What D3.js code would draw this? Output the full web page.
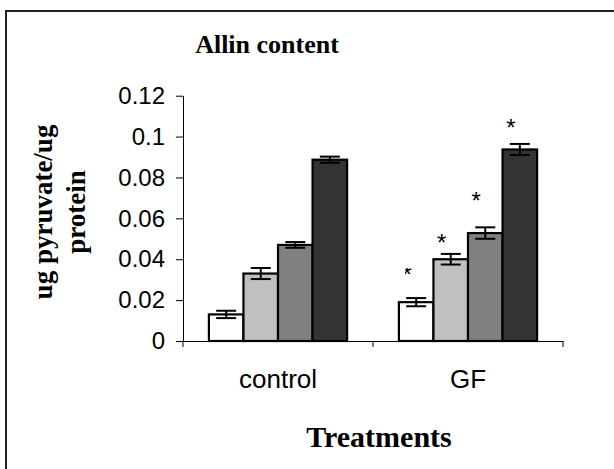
<!DOCTYPE html>
<html>
<head>
<meta charset="utf-8">
<script src="https://cdn.jsdelivr.net/npm/d3@7"></script>
<style>
  body { margin: 0; background: #fff; }
  svg { display: block; }
</style>
</head>
<body>
<script>
// values
const categories = ['control', 'GF'];
const levels = [0, 1, 2, 3];
const controlMeans = [0.013, 0.033, 0.047, 0.0887];
const controlErr = [0.0018, 0.0027, 0.0014, 0.0015];
const gfMeans = [0.019, 0.040, 0.0528, 0.0937];
const gfErr = [0.002, 0.0026, 0.0028, 0.0027];
const gfStarY = [0.0347, 0.0504, 0.0709, 0.1066];
const yTicks = [0, 0.02, 0.04, 0.06, 0.08, 0.1, 0.12];
const fills = ['#ffffff', '#c0c0c0', '#808080', '#333333'];

const means = { control: controlMeans, GF: gfMeans };
const errs = { control: controlErr, GF: gfErr };

const svg = d3.select('body').append('svg')
  .attr('width', 614)
  .attr('height', 469);

svg.append('rect')
  .attr('x', 6).attr('y', 11)
  .attr('width', 700).attr('height', 600)
  .attr('fill', 'none')
  .attr('stroke', '#222')
  .attr('stroke-width', 2);

const x0 = d3.scaleBand().domain(categories).range([183, 563]);
const x1 = d3.scaleBand().domain(levels)
  .range([0, x0.bandwidth()])
  .paddingInner(0).paddingOuter(0.75);
const y = d3.scaleLinear().domain([0, 0.12]).range([341, 95.7]);

// y axis
const yAxis = d3.axisLeft(y)
  .tickValues(yTicks)
  .tickSize(7)
  .tickSizeOuter(0)
  .tickPadding(11)
  .tickFormat(d => d === 0 ? '0' : String(+d.toFixed(2)));

const yG = svg.append('g')
  .attr('transform', 'translate(183,0)')
  .call(yAxis);
yG.selectAll('text')
  .attr('font-family', '"Liberation Sans", Arial, sans-serif')
  .attr('font-size', 24)
  .attr('fill', '#000');
yG.selectAll('line, path').attr('stroke', '#000');

// bars
const rows = [];
categories.forEach(c => {
  levels.forEach(i => rows.push({ cat: c, i: i, v: means[c][i], e: errs[c][i] }));
});

const bars = svg.append('g');
bars.selectAll('rect')
  .data(rows)
  .join('rect')
  .attr('x', d => x0(d.cat) + x1(d.i))
  .attr('y', d => y(d.v))
  .attr('width', x1.bandwidth())
  .attr('height', d => y(0) - y(d.v))
  .attr('fill', d => fills[d.i])
  .attr('stroke', '#000')
  .attr('stroke-width', 2.2);

// error bars
const cx = d => x0(d.cat) + x1(d.i) + x1.bandwidth() / 2;
const eb = svg.append('g').attr('stroke', '#000').attr('stroke-width', 2);
eb.selectAll('.stem')
  .data(rows)
  .join('line')
  .attr('x1', cx).attr('x2', cx)
  .attr('y1', d => y(d.v - d.e))
  .attr('y2', d => y(d.v + d.e));
eb.selectAll('.capTop')
  .data(rows)
  .join('line')
  .attr('x1', d => cx(d) - 10).attr('x2', d => cx(d) + 10)
  .attr('y1', d => y(d.v + d.e)).attr('y2', d => y(d.v + d.e));
eb.selectAll('.capBot')
  .data(rows)
  .join('line')
  .attr('x1', d => cx(d) - 10).attr('x2', d => cx(d) + 10)
  .attr('y1', d => y(d.v - d.e)).attr('y2', d => y(d.v - d.e));

// x axis
const xAxis = d3.axisBottom(x0).tickSize(0).tickPadding(29);
const xG = svg.append('g')
  .attr('transform', `translate(0,${y(0)})`)
  .call(xAxis);
xG.select('.domain').attr('stroke', '#000');
xG.selectAll('text')
  .attr('font-family', '"Liberation Sans", Arial, sans-serif')
  .attr('font-size', 26)
  .attr('fill', '#000');

const edges = categories.map(c => x0(c)).concat([x0.range()[1]]);
xG.selectAll('.edge')
  .data(edges)
  .join('line')
  .attr('class', 'edge')
  .attr('x1', d => d).attr('x2', d => d)
  .attr('y1', 0).attr('y2', 6)
  .attr('stroke', '#000');

// significance stars over GF (the first one is cut off in the original)
const starX = i => x0('GF') + x1(i) + x1.bandwidth() / 2 - 9;
const clip = svg.append('clipPath').attr('id', 'halfStar');
clip.append('rect')
  .attr('x', starX(0) - 2)
  .attr('y', y(gfStarY[0]) - 2)
  .attr('width', 10)
  .attr('height', 12);

svg.append('g').selectAll('text')
  .data(levels)
  .join('text')
  .attr('x', starX)
  .attr('y', i => y(gfStarY[i]) + 13)
  .attr('text-anchor', 'middle')
  .attr('font-family', '"Liberation Sans", Arial, sans-serif')
  .attr('font-size', 24)
  .attr('clip-path', i => i === 0 ? 'url(#halfStar)' : null)
  .text('*');

// titles
const serif = '"Liberation Serif", "Times New Roman", serif';
svg.append('text')
  .attr('x', 267).attr('y', 53)
  .attr('text-anchor', 'middle')
  .attr('font-family', serif)
  .attr('font-weight', 'bold')
  .attr('font-size', 26)
  .text('Allin content');

svg.append('text')
  .attr('x', 379).attr('y', 447)
  .attr('text-anchor', 'middle')
  .attr('font-family', serif)
  .attr('font-weight', 'bold')
  .attr('font-size', 30)
  .text('Treatments');

const yTitle = svg.append('g')
  .attr('transform', 'translate(0,212) rotate(-90)')
  .attr('font-family', serif)
  .attr('font-weight', 'bold')
  .attr('font-size', 27)
  .attr('text-anchor', 'middle');
yTitle.append('text').attr('x', 0).attr('y', 52).text('ug pyruvate/ug');
yTitle.append('text').attr('x', 0).attr('y', 85).text('protein');
</script>
</body>
</html>
